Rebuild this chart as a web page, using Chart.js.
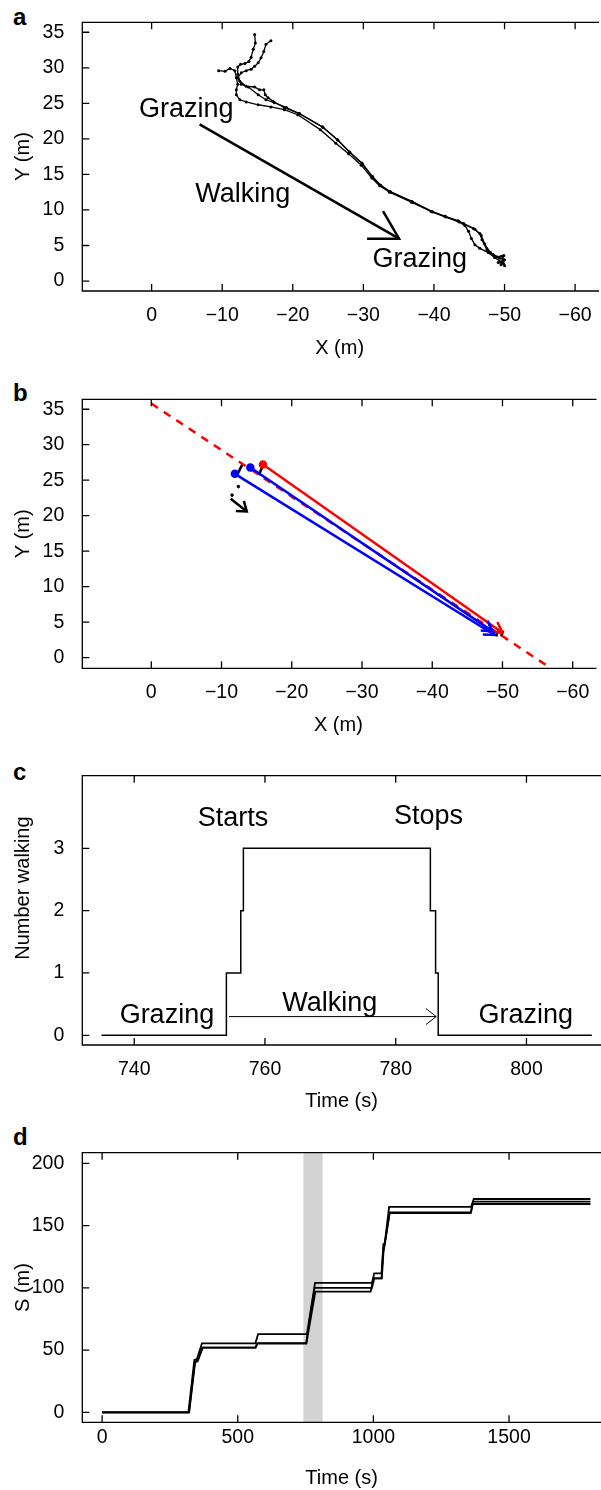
<!DOCTYPE html>
<html>
<head>
<meta charset="utf-8">
<script src="https://cdn.jsdelivr.net/npm/chart.js@4.4.1/dist/chart.umd.min.js"></script>
<style>
html, body { margin: 0; padding: 0; background: #fff; width: 601px; height: 1490px; overflow: hidden; }
body { position: relative; }
canvas { position: absolute; left: 0; }
.lab { position: absolute; left: 13px; font: bold 24px "Liberation Sans", Arial, sans-serif; line-height: 24px; }
</style>
</head>
<body>
<div class="lab" style="top:5px">a</div>
<div class="lab" style="top:381px">b</div>
<div class="lab" style="top:760px">c</div>
<div class="lab" style="top:1125px">d</div>
<canvas id="pa" width="601" height="370" style="top:0px"></canvas>
<canvas id="pb" width="601" height="370" style="top:370px"></canvas>
<canvas id="pc" width="601" height="380" style="top:740px"></canvas>
<canvas id="pd" width="601" height="390" style="top:1110px"></canvas>
<script>
const FONT = '"Liberation Sans", Arial, Helvetica, sans-serif';

// ---- panel a / b : positions (m)
const xTicksM = [0, -10, -20, -30, -40, -50, -60];
const yTicksM = [0, 5, 10, 15, 20, 25, 30, 35];

const track1 = [[-14.6,34.7],[-14.7,33.5],[-14.4,32.6],[-14.1,31.5],[-13.8,30.9],[-13.2,30.6],[-12.6,30.5],[-12.2,30.1],[-12.2,29.1],[-12.5,28.1],[-13.4,27.4],[-14.6,27.3],[-15.3,26.9],[-15.9,26.9],[-16.1,26.2],[-16.5,25.8],[-17.2,25.3],[-18.8,24.4],[-20.9,23.6],[-24.2,21.7],[-26.3,19.9],[-28.0,18.2],[-29.8,16.6],[-31.3,14.7],[-32.4,13.5],[-33.8,12.6],[-36.9,11.2],[-39.7,9.8],[-41.6,9.1],[-43.5,8.4],[-44.4,7.9],[-45.6,7.4],[-46.5,6.7],[-46.8,5.8],[-47.5,4.4],[-48.4,3.7],[-49.3,3.2],[-50.0,3.0],[-49.8,2.5],[-49.1,2.6]];
const track2 = [[-16.9,33.8],[-16.2,33.3],[-15.9,32.3],[-15.5,31.4],[-15.1,30.7],[-14.6,30.2],[-14.1,29.8],[-13.4,29.6],[-12.7,29.3],[-12.2,28.6],[-12.7,27.7],[-13.7,27.3],[-15.1,26.2],[-16.2,25.5],[-17.4,25.1],[-19.1,24.4],[-21.0,23.5],[-24.3,21.6],[-26.4,19.8],[-28.1,18.1],[-29.9,16.4],[-31.3,14.6],[-32.5,13.4],[-33.9,12.5],[-37.0,11.1],[-39.8,9.7],[-41.7,9.0],[-43.6,8.3],[-44.4,7.8],[-44.9,7.0],[-45.3,6.0],[-45.8,5.1],[-46.5,4.6],[-47.7,4.0],[-48.6,3.3],[-49.5,2.7],[-50.0,2.2],[-49.6,3.5]];
const track3 = [[-9.5,29.6],[-10.4,29.5],[-11.1,29.9],[-11.8,29.6],[-12.0,28.6],[-12.2,27.7],[-12.0,26.9],[-12.0,26.2],[-12.5,25.5],[-13.4,25.2],[-15.1,24.8],[-16.9,24.5],[-18.8,24.1],[-20.7,23.4],[-23.9,21.3],[-26.1,19.4],[-27.9,17.9],[-29.7,16.3],[-31.2,14.5],[-32.3,13.4],[-33.7,12.5],[-36.8,11.1],[-39.6,9.8],[-41.5,9.1],[-43.4,8.5],[-44.2,8.1],[-45.8,7.3],[-46.7,6.4],[-47.2,5.2],[-48.0,4.0],[-49.0,3.4],[-49.9,3.6],[-49.5,2.3]];
const walkArrowA = [[-6.8,22.05],[-35.06,5.96]];
const notesA = [
  {text: 'Grazing', x: -4.9, y: 23.05},
  {text: 'Walking', x: -12.9, y: 11.17},
  {text: 'Grazing', x: -38.0, y: 2.0}
];

const fitLine = [[0,35.8],[-56.9,-1.5]];
const redMove = [[-15.9,27.2],[-50.0,3.5]];
const blueMove1 = [[-14.1,26.8],[-48.6,3.7]];
const blueMove2 = [[-11.9,25.9],[-48.9,3.2]];
const heading1 = [[-12.3,25.9],[-13.0,27.3]];
const heading2 = [[-15.3,25.7],[-15.9,27.1]];
const meanHeading = [[-11.3,22.4],[-13.6,20.6]];
const headingDots = [[-12.4,24.1],[-11.5,22.9]];
const endMark1 = [[-49.1,3.0],[-49.4,3.8]];
const endMark2 = [[-49.8,3.0],[-50.1,3.8]];

// ---- panel c : number walking
const timeTicksC = [740, 760, 780, 800];
const countTicks = [0, 1, 2, 3];
const stepTimes = [735, 754.1, 756.3, 756.7, 785.3, 786.1, 786.5, 810];
const stepCounts = [0, 1, 2, 3, 2, 1, 0, 0];
const walkArrowC = [[754.5,0.3],[786.2,0.3]];
const notesC = [
  {text: 'Starts', x: 755.1, y: 3.35},
  {text: 'Stops', x: 785.0, y: 3.39},
  {text: 'Grazing', x: 745.0, y: 0.19},
  {text: 'Walking', x: 769.9, y: 0.39},
  {text: 'Grazing', x: 799.9, y: 0.19}
];

// ---- panel d : distance travelled
const timeTicksD = [0, 500, 1000, 1500];
const sTicks = [0, 50, 100, 150, 200];
const sA = [[0,0],[318,0],[340,42],[350,43],[368,55.4],[565,55.4],[575,62.8],[755,62.8],[785,104],[995,104],[1003,111.6],[1030,111.6],[1037,135],[1042,136],[1058,165],[1360,165],[1370,171.3],[1800,171.3]];
const sB = [[0,0],[320,0],[342,40],[352,41],[370,51.9],[565,51.9],[572,55.6],[752,55.6],[783,100],[995,100],[1003,107.5],[1030,107.5],[1036,130],[1043,137],[1060,160.5],[1360,160.5],[1368,169.2],[1800,169.2]];
const sC = [[0,0],[321,0],[343,41],[353,42],[371,51.9],[566,51.9],[573,55.2],[753,55.2],[786,97],[990,97],[1000,107.5],[1031,107.5],[1037,128],[1042,135],[1060,160],[1358,160],[1366,167.3],[1800,167.3]];
const shadeD = [742, 813];

const pts = a => a.map(([x, y]) => ({x, y}));

// frame (top, left, bottom) with inward ticks
const framePlugin = {
  id: 'frame',
  afterDraw(chart) {
    const {ctx, chartArea: a, scales: {x, y}} = chart;
    ctx.save();
    ctx.strokeStyle = '#000';
    ctx.lineWidth = 1.3;
    ctx.beginPath();
    ctx.moveTo(a.right + 2, a.top);
    ctx.lineTo(a.left, a.top);
    ctx.lineTo(a.left, a.bottom);
    ctx.lineTo(a.right + 2, a.bottom);
    x.ticks.forEach(t => {
      const px = x.getPixelForValue(t.value);
      ctx.moveTo(px, a.top); ctx.lineTo(px, a.top + 7);
      ctx.moveTo(px, a.bottom); ctx.lineTo(px, a.bottom - 7);
    });
    y.ticks.forEach(t => {
      const py = y.getPixelForValue(t.value);
      ctx.moveTo(a.left, py); ctx.lineTo(a.left + 7, py);
    });
    ctx.stroke();
    ctx.restore();
  }
};

// text written inside the plot
const notesPlugin = {
  id: 'notes',
  afterDatasetsDraw(chart, args, opts) {
    if (!opts.items) return;
    const {ctx, scales: {x, y}} = chart;
    ctx.save();
    ctx.fillStyle = '#000';
    ctx.font = opts.size + 'px ' + FONT;
    ctx.textAlign = 'center';
    ctx.textBaseline = 'alphabetic';
    opts.items.forEach(n => ctx.fillText(n.text, x.getPixelForValue(n.x), y.getPixelForValue(n.y)));
    ctx.restore();
  }
};

// open arrow heads on datasets that ask for one
const headsPlugin = {
  id: 'heads',
  afterDatasetsDraw(chart) {
    const ctx = chart.ctx;
    chart.data.datasets.forEach((ds, i) => {
      if (!ds.head) return;
      const el = chart.getDatasetMeta(i).data;
      const a = el[el.length - 2], b = el[el.length - 1];
      const ang = Math.atan2(b.y - a.y, b.x - a.x);
      const {len, spread} = ds.head;
      ctx.save();
      ctx.strokeStyle = ds.borderColor;
      ctx.lineWidth = ds.borderWidth;
      ctx.beginPath();
      ctx.moveTo(b.x - len * Math.cos(ang - spread), b.y - len * Math.sin(ang - spread));
      ctx.lineTo(b.x, b.y);
      ctx.lineTo(b.x - len * Math.cos(ang + spread), b.y - len * Math.sin(ang + spread));
      ctx.stroke();
      ctx.restore();
    });
  }
};

// grey band behind the lines
const shadePlugin = {
  id: 'shade',
  beforeDatasetsDraw(chart, args, opts) {
    if (!opts.range) return;
    const {ctx, chartArea: a, scales: {x}} = chart;
    const x0 = x.getPixelForValue(opts.range[0]), x1 = x.getPixelForValue(opts.range[1]);
    ctx.save();
    ctx.fillStyle = 'rgb(211,211,211)';
    ctx.fillRect(x0, a.top, x1 - x0, a.bottom - a.top);
    ctx.restore();
  }
};

function line(data, color, width, extra) {
  return Object.assign({
    data: pts(data), showLine: true, borderColor: color, backgroundColor: color,
    borderWidth: width, pointRadius: 0, fill: false
  }, extra || {});
}

function makePanel(id, p) {
  const fmt = v => String(v).replace('-', '\u2212');
  new Chart(document.getElementById(id), {
    type: 'scatter',
    data: {datasets: p.datasets},
    options: {
      responsive: false,
      animation: false,
      events: [],
      layout: {padding: {top: p.top, left: 0, right: 0, bottom: 0}},
      scales: {
        x: {
          type: 'linear', min: p.xMin, max: p.xMax, reverse: !!p.xReverse,
          grid: {display: false, drawTicks: false}, border: {display: false},
          afterBuildTicks: s => { s.ticks = p.xTicks.map(v => ({value: v})); },
          afterFit: s => { s.height = p.xH; s.paddingLeft = 0; s.paddingRight = 0; },
          ticks: {color: '#000', font: {family: FONT, size: 19.5}, autoSkip: false, maxRotation: 0, padding: p.xPad, callback: fmt},
          title: {display: true, text: p.xTitle, color: '#000', font: {family: FONT, size: 20}, padding: {top: 0, bottom: p.xTitlePad}}
        },
        y: {
          type: 'linear', min: p.yMin, max: p.yMax,
          grid: {display: false, drawTicks: false}, border: {display: false},
          afterBuildTicks: s => { s.ticks = p.yTicks.map(v => ({value: v})); },
          afterFit: s => { s.width = 82.3; s.paddingTop = 0; s.paddingBottom = 0; },
          ticks: {color: '#000', font: {family: FONT, size: 19.5}, autoSkip: false, padding: 18, callback: fmt},
          title: {display: true, text: p.yTitle, color: '#000', font: {family: FONT, size: 20}, padding: {top: 11.5, bottom: 0}}
        }
      },
      plugins: {
        legend: {display: false},
        tooltip: {enabled: false},
        notes: {items: p.notes, size: 27},
        shade: {range: p.shade}
      }
    },
    plugins: [shadePlugin, headsPlugin, notesPlugin, framePlugin]
  });
}

const dot = {pointRadius: 1.5, pointBorderWidth: 0, pointBackgroundColor: '#000'};

makePanel('pa', {
  top: 22.3, xH: 79, xPad: 12.6, xTitlePad: 9.7,
  xMin: -63.1, xMax: 9.82, xReverse: true, yMin: -1.4, yMax: 36.4,
  xTicks: xTicksM, yTicks: yTicksM, xTitle: 'X (m)', yTitle: 'Y (m)',
  notes: notesA,
  datasets: [
    line(track1, '#000', 1.3, dot),
    line(track2, '#000', 1.3, dot),
    line(track3, '#000', 1.3, dot),
    line(walkArrowA, '#000', 2.5, {head: {len: 32, spread: Math.PI / 6}})
  ]
});

makePanel('pb', {
  top: 29.3, xH: 71.7, xPad: 12.6, xTitlePad: 3,
  xMin: -63.1, xMax: 9.82, xReverse: true, yMin: -1.5, yMax: 36.4,
  xTicks: xTicksM, yTicks: yTicksM, xTitle: 'X (m)', yTitle: 'Y (m)',
  datasets: [
    line(redMove, '#ff0000', 2.5, {head: {len: 12, spread: Math.PI / 6}, pointRadius: [3, 0]}),
    line(blueMove1, '#0000ff', 2.5, {head: {len: 12, spread: Math.PI / 6}, pointRadius: [3, 0]}),
    line(blueMove2, '#0000ff', 2.5, {head: {len: 12, spread: Math.PI / 6}, pointRadius: [3, 0]}),
    line(fitLine, '#ff0000', 2.5, {borderDash: [8, 7]}),
    line(heading1, '#000', 2.5),
    line(heading2, '#000', 2.5),
    line(endMark1, '#000', 2.5),
    line(endMark2, '#000', 2.5),
    line(meanHeading, '#000', 2.5, {head: {len: 11, spread: Math.PI * 0.2}}),
    line(headingDots, '#000', 1, {showLine: false, pointRadius: 1.3})
  ]
});

makePanel('pc', {
  top: 35.7, xH: 75, xPad: 12.6, xTitlePad: 6.3,
  xMin: 732.06, xMax: 811.4, yMin: -0.156, yMax: 4.165,
  xTicks: timeTicksC, yTicks: countTicks, xTitle: 'Time (s)', yTitle: '        Number walking',
  notes: notesC,
  datasets: [
    line(stepTimes.map((t, i) => [t, stepCounts[i]]), '#000', 1.5, {stepped: true}),
    line(walkArrowC, '#000', 1, {head: {len: 13, spread: Math.PI * 0.21}})
  ]
});

makePanel('pd', {
  top: 42.7, xH: 77.7, xPad: 4, xTitlePad: 9.7,
  xMin: -73, xMax: 1839, yMin: -8, yMax: 208.5,
  xTicks: timeTicksD, yTicks: sTicks, xTitle: 'Time (s)', yTitle: 'S (m)',
  shade: shadeD,
  datasets: [
    line(sA, '#000', 1.8),
    line(sB, '#000', 1.8),
    line(sC, '#000', 1.8)
  ]
});
</script>
</body>
</html>
